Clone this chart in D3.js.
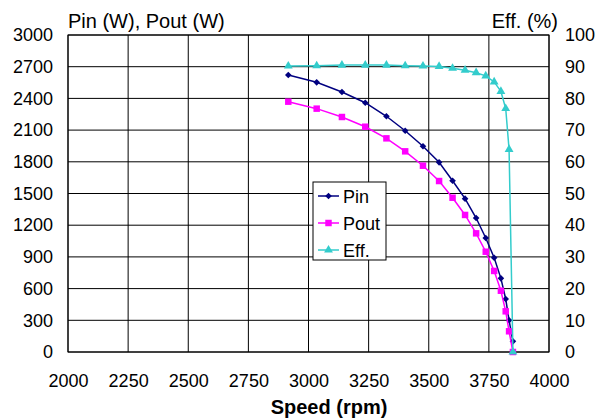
<!DOCTYPE html>
<html>
<head>
<meta charset="utf-8">
<script src="https://cdn.jsdelivr.net/npm/d3@7"></script>
<style>
    body { margin: 0; background: #fff; }
    svg { font-family: "Liberation Sans", Arial, sans-serif; }
</style>
</head>
<body>
<div id="chart"></div>
<script>
const WIDTH = 596;
const HEIGHT = 420;
const MARGIN = { top: 35, right: 47, bottom: 68, left: 68 };

// measured points (speed in rpm)
const speed = [2916, 3034, 3139, 3236, 3324, 3402, 3476, 3543, 3599, 3651, 3697, 3737, 3772, 3800, 3820, 3834, 3850];
const pin = [2621, 2552, 2461, 2359, 2231, 2094, 1947, 1795, 1621, 1451, 1268, 1079, 892, 697, 502, 300, 101];
const pout = [2369, 2303, 2224, 2132, 2022, 1899, 1763, 1618, 1460, 1297, 1123, 949, 767, 580, 385, 196, 0];
const eff = [90.2, 90.3, 90.5, 90.5, 90.5, 90.3, 90.2, 90.1, 89.5, 88.9, 88.1, 87.1, 85.2, 82.2, 76.8, 63.9, 0];

const xTicks = [2000, 2250, 2500, 2750, 3000, 3250, 3500, 3750, 4000];
const yLeftTicks = [0, 300, 600, 900, 1200, 1500, 1800, 2100, 2400, 2700, 3000];
const yRightTicks = [0, 10, 20, 30, 40, 50, 60, 70, 80, 90, 100];

const series = [
    { name: "Pin", values: pin, axis: "left", color: "#000080", symbol: d3.symbolDiamond2, size: 28 },
    { name: "Pout", values: pout, axis: "left", color: "#FF00FF", symbol: d3.symbolSquare, size: 42 },
    { name: "Eff.", values: eff, axis: "right", color: "#33CCCC", symbol: d3.symbolTriangle, size: 34 }
];

const plotW = WIDTH - MARGIN.left - MARGIN.right;
const plotH = HEIGHT - MARGIN.top - MARGIN.bottom;

const svg = d3.select("#chart")
    .append("svg")
    .attr("width", WIDTH)
    .attr("height", HEIGHT);

const x = d3.scaleLinear().domain([2000, 4000]).range([0, plotW]);
const yLeft = d3.scaleLinear().domain([0, 3000]).range([plotH, 0]);
const yRight = d3.scaleLinear().domain([0, 100]).range([plotH, 0]);

const g = svg.append("g")
    .attr("transform", "translate(" + MARGIN.left + "," + MARGIN.top + ")");

// grid
const grid = g.append("g").attr("class", "grid");
grid.selectAll("line.v")
    .data(xTicks)
    .enter().append("line")
    .attr("x1", d => x(d)).attr("x2", d => x(d))
    .attr("y1", 0).attr("y2", plotH)
    .attr("stroke", "#000").attr("stroke-width", 1);
grid.selectAll("line.h")
    .data(yLeftTicks)
    .enter().append("line")
    .attr("x1", 0).attr("x2", plotW)
    .attr("y1", d => yLeft(d)).attr("y2", d => yLeft(d))
    .attr("stroke", "#000").attr("stroke-width", 1);

g.append("rect")
    .attr("width", plotW).attr("height", plotH)
    .attr("fill", "none").attr("stroke", "#000").attr("stroke-width", 1);

// axes labels
const xAxis = d3.axisBottom(x).tickValues(xTicks).tickSize(0).tickPadding(22).tickFormat(d3.format("d"));
const yAxisL = d3.axisLeft(yLeft).tickValues(yLeftTicks).tickSize(0).tickPadding(15).tickFormat(d3.format("d"));
const yAxisR = d3.axisRight(yRight).tickValues(yRightTicks).tickSize(0).tickPadding(16).tickFormat(d3.format("d"));

g.append("g").attr("class", "axis axis-x")
    .attr("transform", "translate(0," + plotH + ")")
    .call(xAxis);
g.append("g").attr("class", "axis axis-yl").call(yAxisL);
g.append("g").attr("class", "axis axis-yr")
    .attr("transform", "translate(" + plotW + ",0)")
    .call(yAxisR);

g.selectAll(".axis .domain").remove();
g.selectAll(".axis text")
    .attr("font-size", 18)
    .attr("font-family", "Liberation Sans, Arial, sans-serif")
    .attr("fill", "#000");

// lines and markers
series.forEach(s => {
    const yScale = s.axis === "left" ? yLeft : yRight;
    const pts = speed.map((sp, i) => [x(sp), yScale(s.values[i])]);
    g.append("path")
        .attr("d", d3.line()(pts))
        .attr("fill", "none")
        .attr("stroke", s.color)
        .attr("stroke-width", 1.5);
    g.selectAll(null)
        .data(pts)
        .enter().append("path")
        .attr("transform", d => "translate(" + d[0] + "," + d[1] + ")")
        .attr("d", d3.symbol().type(s.symbol).size(s.size))
        .attr("fill", s.color);
});

// titles
svg.append("text")
    .attr("x", 68).attr("y", 28)
    .attr("font-size", 20)
    .text("Pin (W), Pout (W)");
svg.append("text")
    .attr("x", 558).attr("y", 28)
    .attr("text-anchor", "end")
    .attr("font-size", 20)
    .text("Eff. (%)");
svg.append("text")
    .attr("x", 329).attr("y", 414)
    .attr("text-anchor", "middle")
    .attr("font-size", 20)
    .attr("font-weight", "bold")
    .text("Speed (rpm)");

// legend
const legend = svg.append("g").attr("transform", "translate(313,182)");
legend.append("rect")
    .attr("width", 73).attr("height", 78)
    .attr("fill", "#fff").attr("stroke", "#000").attr("stroke-width", 1);
const rows = legend.selectAll("g.row")
    .data(series)
    .enter().append("g")
    .attr("transform", (d, i) => "translate(0," + (14 + i * 27) + ")");
rows.append("line")
    .attr("x1", 5).attr("x2", 26)
    .attr("stroke", d => d.color).attr("stroke-width", 1.5);
rows.append("path")
    .attr("transform", "translate(15.5,0)")
    .attr("d", d => d3.symbol().type(d.symbol).size(d.size)())
    .attr("fill", d => d.color);
rows.append("text")
    .attr("x", 30).attr("y", 6.5)
    .attr("font-size", 18)
    .text(d => d.name);
</script>
</body>
</html>
